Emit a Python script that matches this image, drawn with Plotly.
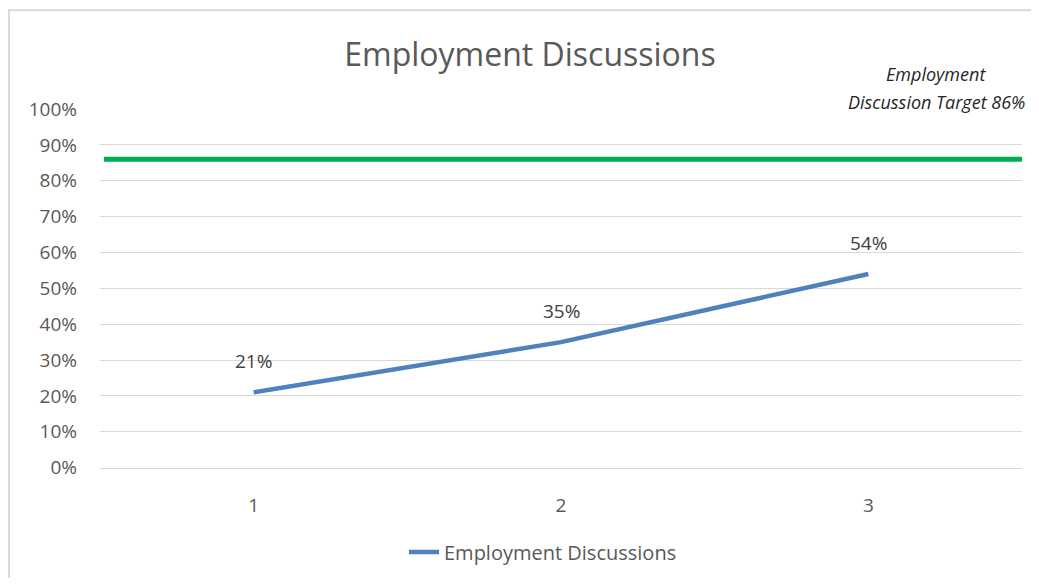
import plotly.graph_objects as go

categories = [1, 2, 3]
values = [0.21, 0.35, 0.54]
labels = ["21%", "35%", "54%"]
target = 0.86
series_name = "Employment Discussions"
title_text = "Employment Discussions"
target_label_lines = ["<i>Employment</i>", "<i>Discussion Target 86%</i>"]

FONT = "Open Sans, Noto Sans, Liberation Sans, sans-serif"

# page has an 8px body margin; work in page pixel coordinates and convert
OFF = 8
PW, PH = 1039, 587
W, H = PW - 2 * OFF, PH - 2 * OFF
plot_left, plot_right, plot_top, plot_bottom = 100, 1022, 109, 469
L = plot_left - OFF
R = (W + OFF) - plot_right
T = plot_top - OFF
B = (H + OFF) - plot_bottom
pw, ph = plot_right - plot_left, plot_bottom - plot_top


def px2x(p):
    return (p - plot_left) / pw


def py2y(p):
    return (plot_bottom - p) / ph


fig = go.Figure()
fig.add_trace(go.Scatter(
    x=categories, y=values, mode="lines", name=series_name,
    line=dict(color="#4F81BD", width=4.5),
))

annotations = []
for c, v, t in zip(categories, values, labels):
    annotations.append(dict(x=c, y=v, xref="x", yref="y", text=t, showarrow=False,
                            yshift=31, xanchor="center", yanchor="middle",
                            font=dict(size=19, color="#404040", family=FONT)))
for line_txt, ypx in zip(target_label_lines, [74, 102]):
    annotations.append(dict(text=line_txt, xref="paper", yref="paper", x=px2x(936), y=py2y(ypx),
                            xanchor="center", yanchor="middle", showarrow=False,
                            font=dict(size=18, color="#262626", family=FONT)))

shapes = [
    dict(type="line", xref="paper", yref="y", x0=px2x(104), x1=1, y0=target, y1=target,
         line=dict(color="#00B050", width=5)),
    dict(type="line", xref="paper", yref="paper", x0=px2x(OFF), x1=px2x(W + OFF), y0=py2y(10), y1=py2y(10),
         line=dict(color="#D9D9D9", width=2)),
    dict(type="line", xref="paper", yref="paper", x0=px2x(OFF + 1), x1=px2x(OFF + 1), y0=py2y(10), y1=py2y(H + OFF),
         line=dict(color="#D9D9D9", width=2)),
]

fig.update_layout(
    width=W, height=H,
    margin=dict(l=L, r=R, t=T, b=B),
    paper_bgcolor="white", plot_bgcolor="white",
    font=dict(family=FONT, color="#595959"),
    title=dict(text=title_text, x=(530 - OFF) / W, xanchor="center",
               y=1 - (55 - OFF) / H, yanchor="middle",
               font=dict(size=32, color="#595959", family=FONT)),
    xaxis=dict(range=[0.5, 3.5], tickvals=categories, ticktext=[str(c) for c in categories],
               showgrid=False, zeroline=False, showline=True, linecolor="#D9D9D9", linewidth=1,
               ticks="", tickfont=dict(size=19, color="#595959"), ticklabelstandoff=20),
    yaxis=dict(range=[-0.001, 1.0], dtick=0.1, tickformat=".0%", showgrid=True, gridcolor="#D9D9D9",
               gridwidth=1, zeroline=False, showline=False, ticks="",
               tickfont=dict(size=19, color="#595959"), ticklabelstandoff=22),
    showlegend=True,
    legend=dict(orientation="h", x=px2x(543), xanchor="center", y=py2y(552), yanchor="middle",
                font=dict(size=20, color="#595959")),
    shapes=shapes,
    annotations=annotations,
)

fig.write_html("out.html")
